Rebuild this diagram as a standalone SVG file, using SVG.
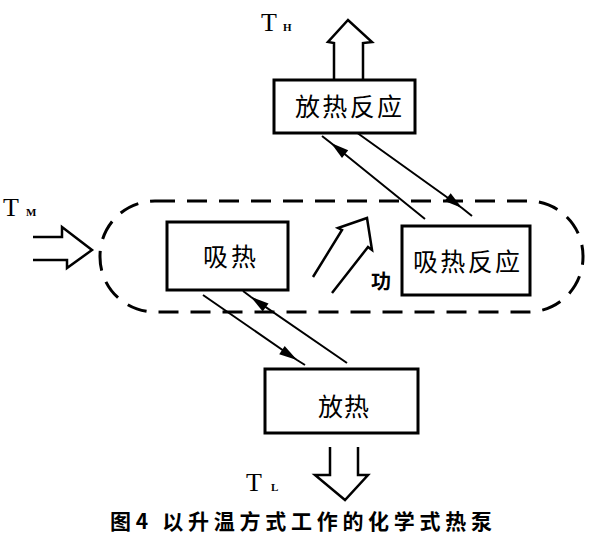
<svg xmlns="http://www.w3.org/2000/svg" width="592" height="552" viewBox="0 0 592 552">
<style>
.box{fill:#fff;stroke:#000;stroke-width:3}
.ln{fill:none;stroke:#000;stroke-width:2}
.hol{fill:none;stroke:#000;stroke-width:2.5;stroke-linejoin:miter}
.cn{font-family:"Noto Sans CJK SC",sans-serif;font-size:25px;fill:#000}
.T{font-family:"Liberation Serif",serif;font-size:26px;fill:#000}
.sub{font-family:"Liberation Serif",serif;font-size:11px;fill:#000;font-weight:bold}
.cap{font-family:"Noto Sans CJK SC",sans-serif;font-size:21px;fill:#000;font-weight:bold}
</style>
<defs>
<marker id="ah" markerUnits="userSpaceOnUse" markerWidth="22" markerHeight="12" viewBox="-19 -6 22 12" refX="0" refY="0" orient="auto">
<path d="M0,0 L-18,-5 L-18,5 z" fill="#000"/>
</marker>
</defs>
<rect x="0" y="0" width="592" height="552" fill="#fff"/>
<g id="region">
<rect x="100" y="201" width="483" height="111" rx="55" ry="55" fill="none" stroke="#000" stroke-width="3" stroke-dasharray="20 12"/>
</g>
<g id="connectors">
<polyline class="ln" points="356,132 462,208 472,216" marker-mid="url(#ah)"/>
<polyline class="ln" points="425,219 331,143 322,136" marker-mid="url(#ah)"/>
<polyline class="ln" points="203,295 297,360 305,365" marker-mid="url(#ah)"/>
<polyline class="ln" points="347,363 251,297 243,291" marker-mid="url(#ah)"/>
<path class="hol" d="M334,80 L334,43 L328,42 L348,20 L372,42 L363,43 L363,80"/>
<path class="hol" d="M33,237 L62,237 L62,227 L92,250 L67,268 L67,260 L33,260"/>
<path class="hol" d="M330,447 L330,475 L315,475 L345,500 L368,475 L358,475 L358,447"/>
<path class="hol" d="M313,277 L342,230 L338,228 L367,218 L372,250 L368,247 L332,293"/>
</g>
<g id="n_top">
<rect class="box" x="274" y="80" width="141" height="53"/>
<text class="cn" x="295" y="116" textLength="107" lengthAdjust="spacing">放热反应</text>
</g>
<g id="n_left">
<rect class="box" x="167" y="222" width="121" height="68"/>
<text class="cn" x="203" y="266" textLength="53" lengthAdjust="spacing">吸热</text>
</g>
<g id="n_right">
<rect class="box" x="402" y="226" width="128" height="69"/>
<text class="cn" x="413" y="271" textLength="107" lengthAdjust="spacing">吸热反应</text>
</g>
<g id="n_bottom">
<rect class="box" x="265" y="369" width="153" height="64"/>
<text class="cn" x="318" y="416" textLength="51" lengthAdjust="spacing">放热</text>
</g>
<g id="labels">
<text class="T" x="261" y="31">T</text><text class="sub" x="283" y="31">H</text>
<text class="T" x="3" y="216">T</text><text class="sub" x="26" y="216">M</text>
<text class="T" x="246" y="491">T</text><text class="sub" x="271" y="491">L</text>
<text x="381" y="289" font-family="Noto Sans CJK SC,sans-serif" font-size="20" font-weight="bold" text-anchor="middle">功</text>
<text class="cap" x="110" y="529" textLength="382" lengthAdjust="spacing">图4 以升温方式工作的化学式热泵</text>
</g>
</svg>
